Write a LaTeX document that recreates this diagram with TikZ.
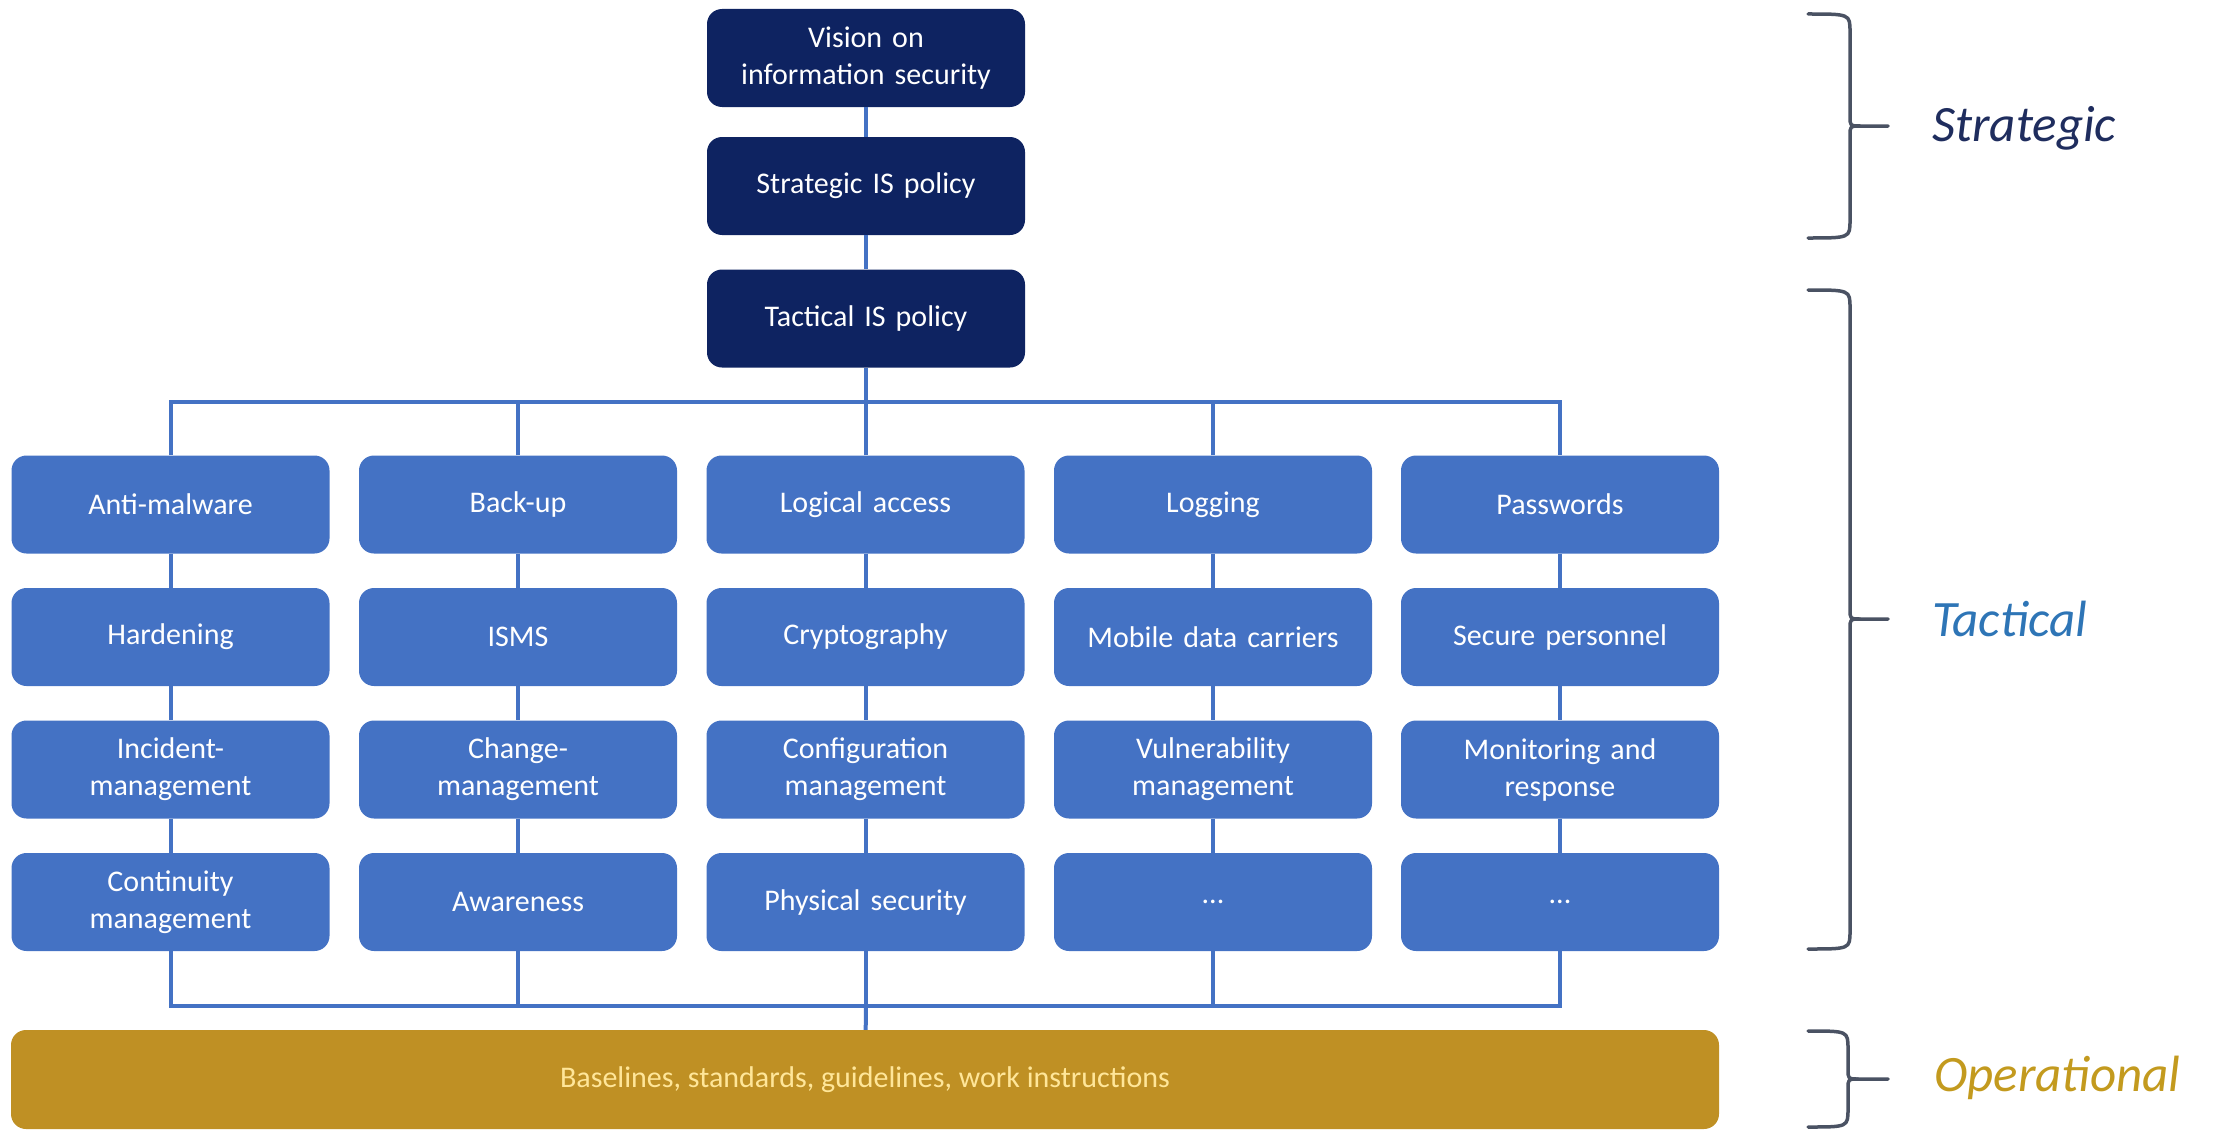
\documentclass[tikz,border=0pt]{standalone}
\usepackage{fontspec}
\setmainfont{Carlito}
\definecolor{navy}{HTML}{0E2361}
\definecolor{ablue}{HTML}{4472C4}
\definecolor{gold}{HTML}{BF9024}
\definecolor{paleyellow}{HTML}{FFE699}
\definecolor{bracegray}{HTML}{4A5263}
\definecolor{stratcol}{HTML}{1F2D5E}
\definecolor{tactcol}{HTML}{2E75B6}
\definecolor{opcol}{HTML}{C39A1E}
\newcommand{\sidebrace}[6]{%
  \draw[bracestyle] (#1,#4) .. controls (#2,#4) .. (#2,#4+18) -- (#2,#5-10) .. controls (#2,#5) .. (#2+10,#5) -- (#3,#5);
  \draw[bracestyle] (#2+10,#5) .. controls (#2,#5) .. (#2,#5+10) -- (#2,#6-18) .. controls (#2,#6) .. (#1,#6);
}
\tikzset{
  box/.style={rounded corners=15pt, minimum width=318pt, minimum height=98pt,
    text width=300pt, align=center, text=white, inner sep=0pt,
    font=\fontsize{30}{37}\selectfont},
  navybox/.style={box, fill=navy},
  bluebox/.style={box, fill=ablue},
  conn/.style={draw=ablue, line width=4pt},
  bracestyle/.style={draw=bracegray, line width=3.5pt, line join=round, line cap=round},
  lvl/.style={anchor=west, inner sep=0pt, font=\fontsize{51}{60}\selectfont\itshape}
}
\begin{document}
\begin{tikzpicture}[x=1pt,y=-1pt]
\path[use as bounding box] (0,0) rectangle (2222,1132);

% top chain
\node[navybox] (vision) at (866,58) {Vision on\\information security};
\node[navybox] (strat) at (866,186) {Strategic IS policy};
\node[navybox] (tact) at (866,318.5) {Tactical IS policy};

% column 1
\node[bluebox] (c1r1) at (170.5,504.5) {Anti-malware};
\node[bluebox] (c1r2) at (170.5,637) {Hardening};
\node[bluebox] (c1r3) at (170.5,769.5) {Incident-\\management};
\node[bluebox] (c1r4) at (170.5,902) {Continuity\\management};
% column 2
\node[bluebox] (c2r1) at (518,504.5) {Back-up};
\node[bluebox] (c2r2) at (518,637) {ISMS};
\node[bluebox] (c2r3) at (518,769.5) {Change-\\management};
\node[bluebox] (c2r4) at (518,902) {Awareness};
% column 3
\node[bluebox] (c3r1) at (865.5,504.5) {Logical access};
\node[bluebox] (c3r2) at (865.5,637) {Cryptography};
\node[bluebox] (c3r3) at (865.5,769.5) {Configuration\\management};
\node[bluebox] (c3r4) at (865.5,902) {Physical security};
% column 4
\node[bluebox] (c4r1) at (1213,504.5) {Logging};
\node[bluebox] (c4r2) at (1213,637) {Mobile data carriers};
\node[bluebox] (c4r3) at (1213,769.5) {Vulnerability\\management};
\node[bluebox] (c4r4) at (1213,902) {...};
% column 5
\node[bluebox] (c5r1) at (1560,504.5) {Passwords};
\node[bluebox] (c5r2) at (1560,637) {Secure personnel};
\node[bluebox] (c5r3) at (1560,769.5) {Monitoring and\\response};
\node[bluebox] (c5r4) at (1560,902) {...};

% operational bar
\node[fill=gold, rounded corners=15pt, minimum width=1708pt, minimum height=99pt,
  inner sep=0pt, text=paleyellow, font=\fontsize{30}{37}\selectfont] (ops) at (865,1079.5)
  {Baselines, standards, guidelines, work instructions};

% connectors
\draw[conn] (vision) -- (strat);
\draw[conn] (strat) -- (tact);
\coordinate (bt) at (866,402);
\draw[conn] (tact) -- (bt);
\draw[conn] (c1r1.north) |- (bt) -| (c5r1.north);
\foreach \c in {2,3,4} {\draw[conn] (c\c r1.north) -- (c\c r1.north |- bt);}
\foreach \c in {1,2,3,4,5} {
  \draw[conn] (c\c r1) -- (c\c r2);
  \draw[conn] (c\c r2) -- (c\c r3);
  \draw[conn] (c\c r3) -- (c\c r4);
}
\coordinate (bb) at (866,1006);
\draw[conn] (c1r4.south) |- (bb) -| (c5r4.south);
\foreach \c in {2,3,4} {\draw[conn] (c\c r4.south) -- (c\c r4.south |- bb);}
\draw[conn] (bb) -- (ops);

% braces and level labels
\sidebrace{1808}{1850}{1888}{14}{126}{238}
\sidebrace{1808}{1850}{1888}{290}{619}{949}
\sidebrace{1808}{1848}{1888}{1031}{1079}{1127}
\node[lvl, text=stratcol] (lstrat) at (1932,128) {Strategic};
\node[lvl, text=tactcol] (ltact) at (1932,619) {Tactical};
\node[lvl, text=opcol] (lop) at (1934,1078) {Operational};
\end{tikzpicture}
\end{document}
